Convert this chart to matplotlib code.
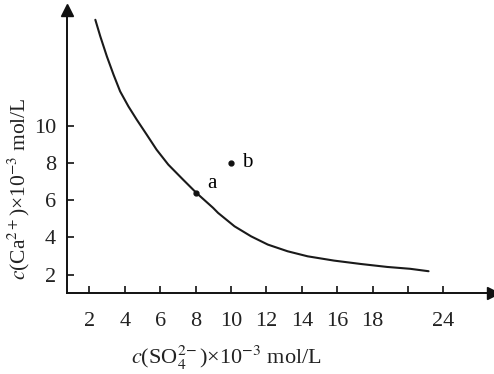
import matplotlib
matplotlib.use("Agg")
import matplotlib.pyplot as plt

plt.rcParams["font.family"] = ["Liberation Serif", "DejaVu Serif"]
plt.rcParams["mathtext.fontset"] = "stix"

# ── Data ─────────────────────────────────────────────────────────────────────
so4 = [2.34, 2.62, 2.99, 3.37, 3.74, 4.21, 4.68, 5.24, 5.80, 6.46, 7.30,
       8.05, 8.99, 9.27, 10.20, 11.14, 12.08, 13.20, 14.33, 15.82, 17.32,
       18.82, 20.12, 21.16]
ca = [15.68, 14.79, 13.72, 12.73, 11.84, 11.03, 10.32, 9.52, 8.71, 7.91, 7.10,
      6.39, 5.59, 5.32, 4.60, 4.06, 3.62, 3.26, 2.99, 2.76, 2.58,
      2.42, 2.32, 2.19]

point_names = ["a", "b"]
point_x = [8.05, 10.0]
point_y = [6.39, 8.0]

x_ticks = [2, 4, 6, 8, 10, 12, 14, 16, 18, 20, 22]
x_tick_labels = ["2", "4", "6", "8", "10", "12", "14", "16", "18", "", "24"]
y_ticks = [2, 4, 6, 8, 10]

# ── Plot ─────────────────────────────────────────────────────────────────────
fig = plt.figure(figsize=(4.94, 3.74), dpi=100)
ax = fig.add_axes([0.136, 0.217, 0.862, 0.756])

ax.plot(so4, ca, color="#1a1a1a", lw=1.5, solid_capstyle="round",
        solid_joinstyle="round")
ax.plot(point_x, point_y, "o", color="#111111", ms=3.5)
for name, px, py in zip(point_names, point_x, point_y):
    ax.annotate(name, (px, py), xytext=(8, 0), textcoords="offset points",
                fontsize=15, va="bottom" if name == "a" else "center")

ax.set_xlim(0.75, 24.8)
ax.set_ylim(1.03, 16.2)

for side in ("top", "right"):
    ax.spines[side].set_visible(False)
for side in ("left", "bottom"):
    ax.spines[side].set_linewidth(1.4)
    ax.spines[side].set_color("#111111")

# axis arrows
ax.plot(1, 0, ">", color="#111111", ms=8, transform=ax.transAxes, clip_on=False)
ax.plot(0, 1, "^", color="#111111", ms=8, transform=ax.transAxes, clip_on=False)

ax.set_xticks(x_ticks)
ax.set_xticklabels(x_tick_labels)
ax.set_yticks(y_ticks)
ax.tick_params(direction="in", length=5, width=1.2, labelsize=16,
               color="#111111", labelcolor="#222222")
ax.tick_params(axis="x", pad=14)
ax.tick_params(axis="y", pad=8)

ax.set_xlabel(r"$c$(SO$_4^{2\!-}$)×10$^{-3}$ mol/L", fontsize=16,
              color="#222222")
ax.xaxis.set_label_coords(0.373, -0.18)
ax.set_ylabel(r"$c$(Ca$^{2+}$)×10$^{-3}$ mol/L", fontsize=15.5,
              color="#222222")
ax.yaxis.set_label_coords(-0.082, 0.37)

fig.savefig("out.png", dpi=100)
plt.close(fig)
